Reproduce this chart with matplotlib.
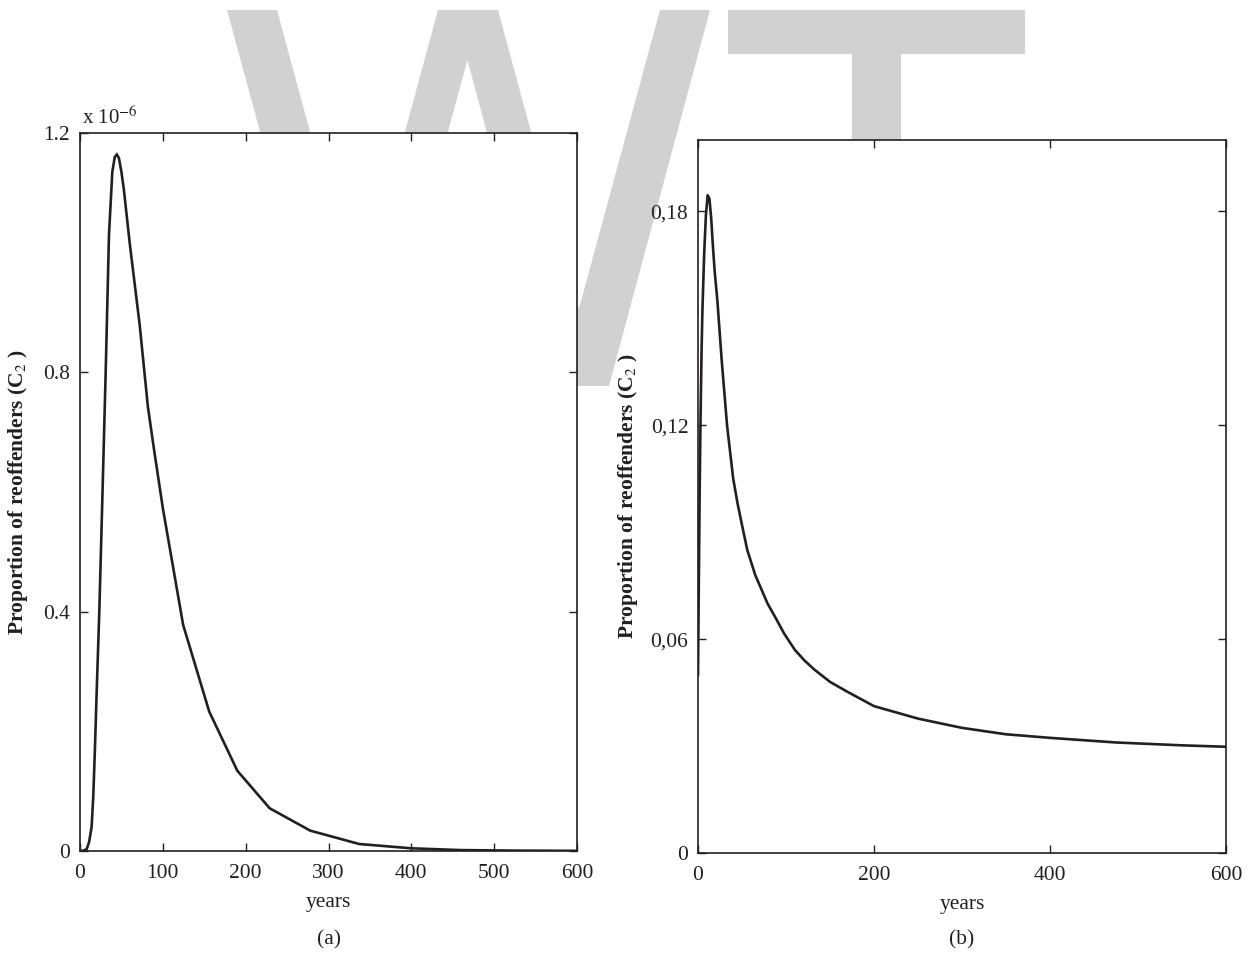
import matplotlib
matplotlib.use("Agg")
import matplotlib.pyplot as plt
from matplotlib.patches import Polygon

# ---- data -------------------------------------------------------------
# (a) proportion of reoffenders C2, in units of 1e-6
years_a = [0, 4, 8, 11, 14, 16, 18, 20, 23.3, 27, 31, 35, 39, 42, 44.5, 47, 50,
           53, 60, 72, 82, 90, 100, 124.5, 156, 190, 229, 278, 337, 400, 460,
           530, 600]
c2_a = [0, 0.0005, 0.003, 0.015, 0.04, 0.09, 0.17, 0.26, 0.40, 0.59, 0.80,
        1.03, 1.135, 1.16, 1.164, 1.158, 1.135, 1.105, 1.016, 0.88, 0.742,
        0.665, 0.573, 0.378, 0.233, 0.134, 0.0714, 0.034, 0.0117, 0.0045,
        0.0015, 0.0006, 0.0003]

# (b) proportion of reoffenders C2
years_b = [0, 1, 2, 3, 4, 5, 7, 9, 11, 13, 15, 17, 19, 22, 27, 33, 40, 45, 50,
           56, 65, 79, 89, 98, 110, 121, 132, 150, 170, 200, 250, 300, 350,
           400, 475, 550, 600]
c2_b = [0.050, 0.078, 0.104, 0.124, 0.140, 0.152, 0.168, 0.179, 0.1845,
        0.1835, 0.178, 0.170, 0.163, 0.155, 0.138, 0.120, 0.105, 0.098, 0.092,
        0.085, 0.078, 0.070, 0.0656, 0.0615, 0.057, 0.054, 0.0515, 0.048,
        0.0452, 0.0412, 0.0377, 0.0351, 0.0333, 0.0323, 0.031, 0.0302, 0.0298]

xticks_a = [0, 100, 200, 300, 400, 500, 600]
yticks_a = [0, 0.4, 0.8, 1.2]
yticklabels_a = ["0", "0.4", "0.8", "1.2"]

xticks_b = [0, 200, 400, 600]
yticks_b = [0, 0.06, 0.12, 0.18]
yticklabels_b = ["0", "0,06", "0,12", "0,18"]

ylabel = "Proportion of reoffenders (C$_2$ )"
xlabel = "years"

# ---- style ------------------------------------------------------------
plt.rcParams["font.family"] = ["Liberation Serif", "DejaVu Serif"]
plt.rcParams["mathtext.fontset"] = "stix"

W, H = 1249, 958
fig = plt.figure(figsize=(W / 100, H / 100), dpi=100)
fig.patch.set_facecolor("white")

INK = "#231f20"
GREY = "#d1d1d1"


def px_poly(pts):
    return [(x / W, 1 - y / H) for x, y in pts]


# background "WT" mark
shapes = [
    [(227, 10), (277, 10), (379, 386), (329, 386)],
    [(438, 10), (481, 10), (379, 386), (336, 386)],
    [(454, 10), (498, 10), (600, 386), (555, 386)],
    [(660, 10), (710, 10), (609, 386), (558, 386)],
    [(728, 10), (1025, 10), (1025, 54), (728, 54)],
    [(852, 54), (901, 54), (901, 150), (852, 150)],
]
for s in shapes:
    fig.patches.append(Polygon(px_poly(s), closed=True, transform=fig.transFigure,
                               facecolor=GREY, edgecolor="none", zorder=-5))


def style_axes(ax):
    ax.set_facecolor("white")
    for sp in ax.spines.values():
        sp.set_linewidth(1.2)
        sp.set_color(INK)
    ax.tick_params(direction="in", length=6, width=1.0, color=INK,
                   top=True, right=True, labelsize=15.5, labelcolor=INK)
    ax.tick_params(axis="y", pad=7)
    ax.tick_params(axis="x", pad=9)


# ---- (a) ----------------------------------------------------------------
ax1 = fig.add_axes([80 / W, 1 - 851 / H, 497 / W, 718 / H])
ax1.plot(years_a, c2_a, color=INK, lw=1.9, solid_joinstyle="miter")
ax1.set_xlim(0, 600)
ax1.set_ylim(0, 1.2)
ax1.set_xticks(xticks_a)
ax1.set_yticks(yticks_a)
ax1.set_yticklabels(yticklabels_a)
style_axes(ax1)
ax1.set_xlabel(xlabel, fontsize=15.5, color=INK)
ax1.xaxis.set_label_coords(0.5, -(903 - 851) / 718)
ax1.xaxis.label.set_va("center")
ax1.set_ylabel(ylabel, fontsize=15.5, fontweight="bold", color=INK)
ax1.yaxis.set_label_coords(-(80 - 18) / 497, 0.5)
ax1.yaxis.label.set_va("center")
ax1.text(0.004, 1.006, r"x 10$^{-6}$", transform=ax1.transAxes,
         ha="left", va="bottom", fontsize=15, color=INK)

# ---- (b) ----------------------------------------------------------------
ax2 = fig.add_axes([698 / W, 1 - 853 / H, 528 / W, 713 / H])
ax2.plot(years_b, c2_b, color=INK, lw=1.9)
ax2.set_xlim(0, 600)
ax2.set_ylim(0, 0.2)
ax2.set_xticks(xticks_b)
ax2.set_yticks(yticks_b)
ax2.set_yticklabels(yticklabels_b)
style_axes(ax2)
ax2.set_xlabel(xlabel, fontsize=15.5, color=INK)
ax2.xaxis.set_label_coords(0.5, -(905 - 853) / 713)
ax2.xaxis.label.set_va("center")
ax2.set_ylabel(ylabel, fontsize=15.5, fontweight="bold", color=INK)
ax2.yaxis.set_label_coords(-(698 - 628) / 528, 0.5)
ax2.yaxis.label.set_va("center")

fig.text(329 / W, 1 - 940 / H, "(a)", ha="center", va="center",
         fontsize=15.5, color=INK)
fig.text(962 / W, 1 - 940 / H, "(b)", ha="center", va="center",
         fontsize=15.5, color=INK)

fig.savefig("out.png", dpi=100)
